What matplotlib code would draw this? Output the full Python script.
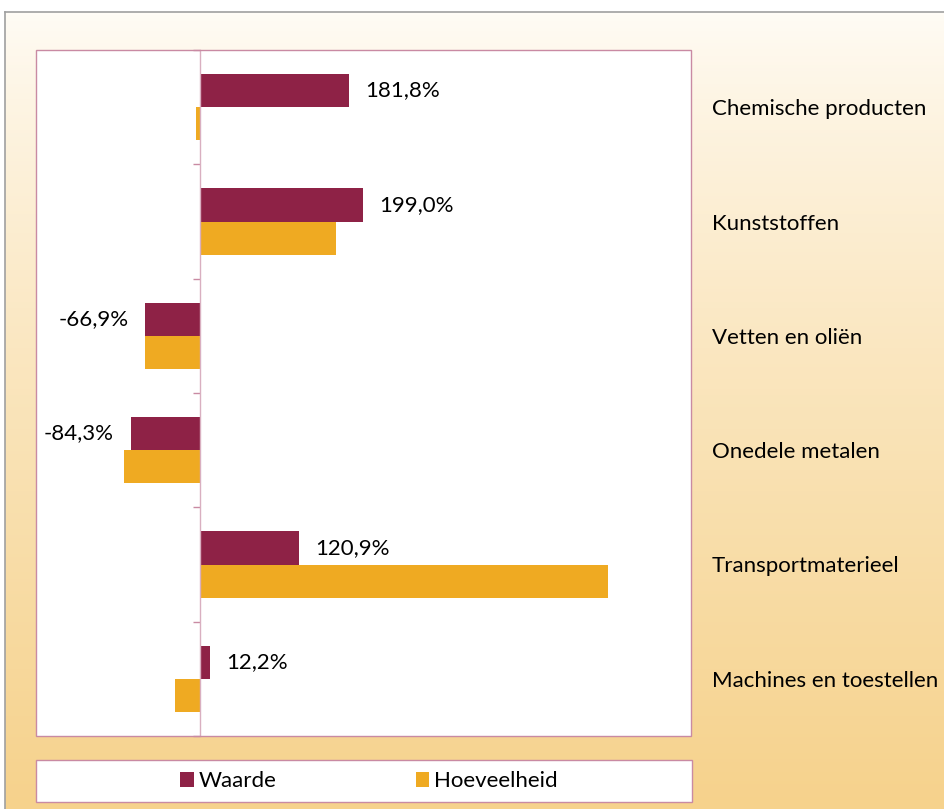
import numpy as np
import matplotlib
matplotlib.use("Agg")
import matplotlib.pyplot as plt
from matplotlib.patches import Rectangle
from matplotlib.lines import Line2D

categories = ["Chemische producten", "Kunststoffen", "Vetten en oliën",
              "Onedele metalen", "Transportmaterieel", "Machines en toestellen"]
waarde = [181.8, 199.0, -66.9, -84.3, 120.9, 12.2]
hoeveelheid = [-5.0, 166.5, -67.0, -92.0, 499.0, -30.0]
series_names = ["Waarde", "Hoeveelheid"]

c_waarde = "#8E2246"
c_hoev = "#EFAA22"
pink = "#C98AA3"
FS = 16

plt.rcParams['font.family'] = ['Lato', 'DejaVu Sans']
W, H = 944, 809
fig = plt.figure(figsize=(W / 100, H / 100), dpi=100)
fig.patch.set_facecolor("white")

# background gradient
bg = fig.add_axes([5 / W, 0, 1 - 5 / W, (H - 12) / H], zorder=-2)
grad = np.linspace(0, 1, 256).reshape(-1, 1)
top = np.array([255, 252, 246]) / 255
bot = np.array([246, 210, 140]) / 255
img = top[None, None, :] * (1 - grad[:, :, None] ** 0.8) + bot[None, None, :] * (grad[:, :, None] ** 0.8)
bg.imshow(img, aspect="auto", extent=[0, 1, 0, 1], origin="upper")
bg.set_xlim(0, 1); bg.set_ylim(0, 1)
bg.axis("off")
fig.add_artist(Line2D([5 / W, 1], [(H - 12) / H] * 2, color="#A0A0A0", lw=1.2))
fig.add_artist(Line2D([5 / W] * 2, [0, (H - 12) / H], color="#A0A0A0", lw=1.2))

# main axes
L, R, T, B = 36, 691, 50, 736
ax = fig.add_axes([L / W, (H - B) / H, (R - L) / W, (B - T) / H])
ax.set_facecolor("white")
y = np.arange(len(categories))
h = 0.29
b1 = ax.barh(y - h / 2, waarde, height=h, color=c_waarde, label=series_names[0])
b2 = ax.barh(y + h / 2, hoeveelheid, height=h, color=c_hoev, label=series_names[1])
ax.set_xlim(-200, 600)
ax.set_ylim(len(categories) - 0.5, -0.5)

ax.bar_label(b1, labels=[f"{v:.1f}%".replace(".", ",") for v in waarde],
             padding=12, fontsize=FS, color="black")

for s in ["top", "right", "bottom"]:
    ax.spines[s].set_visible(False)
ax.spines["left"].set_position(("data", 0))
ax.spines["left"].set_color("#D9AFC0")
ax.spines["left"].set_linewidth(1.0)
ax.add_patch(Rectangle((0, 0), 1, 1, transform=ax.transAxes, fill=False,
                       edgecolor=pink, lw=1.0, clip_on=False, zorder=5))
ax.set_xticks([])
ax.set_yticks(y)
ax.set_yticklabels(categories, fontsize=FS)
ax.set_yticks(np.arange(len(categories) + 1) - 0.5, minor=True)
ax.tick_params(axis="y", which="major", left=False, right=False,
               labelleft=False, labelright=True, pad=11.5)
ax.tick_params(axis="y", which="minor", left=True, right=False, length=5,
               color=pink, width=1)
for t in ax.get_yticklabels():
    t.set_horizontalalignment("left")

# legend box
fig.add_artist(Rectangle((36 / W, (H - 802) / H), (692 - 36) / W, 42 / H,
                         transform=fig.transFigure, facecolor="white",
                         edgecolor=pink, lw=1.0))
fig.legend(handles=[b1, b2], labels=series_names, loc="center",
           bbox_to_anchor=(369 / W, (H - 781) / H), ncol=2, frameon=False,
           fontsize=FS, handlelength=0.6, handleheight=0.65, handletextpad=0.2,
           columnspacing=6.3)

fig.savefig("out.png", dpi=100)
